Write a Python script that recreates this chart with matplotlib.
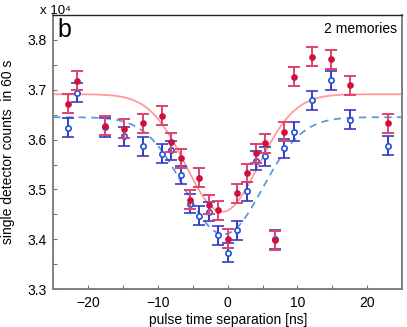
import numpy as np
import matplotlib
matplotlib.use("Agg")
import matplotlib.pyplot as plt

plt.rcParams['font.family'] = ['Liberation Sans', 'DejaVu Sans']

# data (ns, counts x 1e4)
x = [-22.95, -21.6, -17.55, -14.85, -12.15, -9.45, -8.1, -6.75, -5.4, -4.05,
     -2.7, -1.35, 0.0, 1.35, 2.7, 4.05, 5.4, 6.75, 8.1, 9.45, 12.15, 14.85,
     17.55, 22.95]
red = [3.672, 3.718, 3.628, 3.622, 3.633, 3.648, 3.595, 3.563, 3.479, 3.523,
       3.469, 3.458, 3.401, 3.492, 3.533, 3.573, 3.593, 3.398, 3.616, 3.726,
       3.766, 3.761, 3.709, 3.633]
blue = [3.624, 3.694, 3.625, 3.607, 3.587, 3.572, 3.579, 3.529, 3.471, 3.447,
        3.455, 3.408, 3.373, 3.418, 3.496, 3.558, 3.567, 3.400, 3.583, 3.616,
        3.679, 3.719, 3.640, 3.588]
red_err = [0.019] * len(x)
blue_err = [0.019] * len(x)

# fit parameters (baseline, depth, center, sigma)
red_fit = (3.691, 0.236, -0.8, 5.2)
blue_fit = (3.645, 0.235, -0.6, 5.6)

fig = plt.figure(figsize=(4.07, 3.27), dpi=100)
ax = fig.add_axes([0.131, 0.116, 0.857, 0.838])

xf = np.linspace(-25, 25, 500)
def model(p):
    b, d, c, s = p
    return b - d * np.exp(-(xf - c) ** 2 / (2 * s ** 2))

ax.plot(xf, model(red_fit), color='#ff9a9a', lw=1.3, zorder=1)
ax.plot(xf, model(blue_fit), color='#5f9bd8', lw=1.3, ls=(0, (4, 3)), zorder=1)

ax.errorbar(x, blue, yerr=blue_err, fmt='o', ms=3.8, mfc='white', mec='#1a55d8',
            mew=1.2, ecolor='#3a3ac8', elinewidth=1.4, capsize=4.5, capthick=1.4,
            zorder=2)
ax.errorbar(x, red, yerr=red_err, fmt='o', ms=3.8, mfc='#d0103a', mec='#d0103a',
            ecolor='#dd4470', elinewidth=1.4, capsize=4.5, capthick=1.4, zorder=3)

ax.set_xlim(-25, 25)
ax.set_ylim(3.3, 3.85)
ax.set_xticks(np.arange(-20, 21, 5))
ax.set_xticklabels(['\u221220', '', '\u221210', '', '0', '', '10', '', '20'])
ax.set_yticks(np.arange(3.3, 3.851, 0.05))
ax.set_yticklabels(['3.3', '', '3.4', '', '3.5', '', '3.6', '', '3.7', '', '3.8', ''])
ax.tick_params(direction='in', length=3, width=0.8, color='#777777', labelsize=10,
               pad=5)

for s in ['left', 'bottom', 'right']:
    ax.spines[s].set_color('#808080')
    ax.spines[s].set_linewidth(1.4)
ax.spines['top'].set_color('#222222')
ax.spines['top'].set_linewidth(1.0)

ax.set_xlabel('pulse time separation [ns]', fontsize=10, labelpad=2)
ax.set_ylabel('single detector counts  in 60 s', fontsize=10, labelpad=9)

ax.text(0.012, 0.99, 'b', transform=ax.transAxes, fontsize=18, va='top', ha='left')
ax.text(0.985, 0.975, '2 memories', transform=ax.transAxes, fontsize=10, va='top',
        ha='right')
fig.text(0.098, 0.958, 'x 10\u2074', fontsize=9.5, va='baseline', ha='left')

fig.savefig('out.png', dpi=100)
